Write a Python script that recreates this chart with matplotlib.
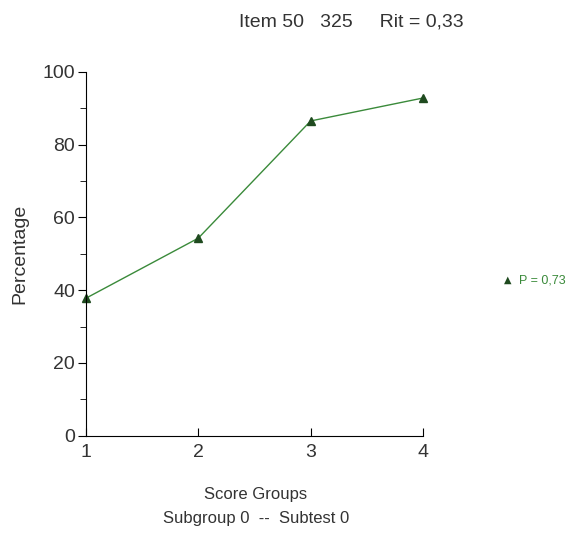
import matplotlib
matplotlib.use('Agg')
import matplotlib.pyplot as plt
from matplotlib.ticker import MultipleLocator

plt.rcParams['font.family'] = ['Liberation Sans Narrow', 'Liberation Sans', 'DejaVu Sans']
plt.rcParams['text.color'] = '#333333'
plt.rcParams['axes.labelcolor'] = '#333333'
plt.rcParams['xtick.labelcolor'] = '#333333'
plt.rcParams['ytick.labelcolor'] = '#333333'

# data
score_groups = [1, 2, 3, 4]
percentage = [37.8, 54.3, 86.5, 92.8]
p_value = '0,73'

line_col = '#3a8a3a'
mark_col = '#1f4a1f'

fig = plt.figure(figsize=(5.81, 5.40), dpi=100)
ax = fig.add_axes([0.148, 0.193, 0.580, 0.674])

ax.plot(score_groups, percentage, '-', color=line_col, lw=1.0)
ax.plot(score_groups, percentage, '^', color=mark_col, ms=6, clip_on=False)

ax.set_xlim(1, 4)
ax.set_ylim(0, 100)
ax.set_xticks(score_groups)
ax.yaxis.set_major_locator(MultipleLocator(20))
ax.yaxis.set_minor_locator(MultipleLocator(10))
ax.spines['top'].set_visible(False)
ax.spines['right'].set_visible(False)
ax.tick_params(axis='x', direction='in', length=6, labelsize=14, pad=6)
ax.tick_params(axis='y', direction='out', length=6, labelsize=14, pad=2)
ax.tick_params(axis='y', which='minor', direction='out', length=4)

ax.set_ylabel('Percentage', fontsize=14, labelpad=10)

fig.text(0.605, 0.96, 'Item 50   325     Rit = 0,33', fontsize=14,
         ha='center', va='center')
fig.text(0.44, 0.085, 'Score Groups', fontsize=12, ha='center', va='center')
fig.text(0.44, 0.039, 'Subgroup 0  --  Subtest 0', fontsize=12,
         ha='center', va='center')
fig.text(0.868, 0.481, '\u25B2', fontsize=7, color=mark_col,
         ha='left', va='center', family=['DejaVu Sans'])
fig.text(0.893, 0.481, 'P = ' + p_value, fontsize=9, color=line_col,
         ha='left', va='center')

plt.savefig('out.png', dpi=100)
